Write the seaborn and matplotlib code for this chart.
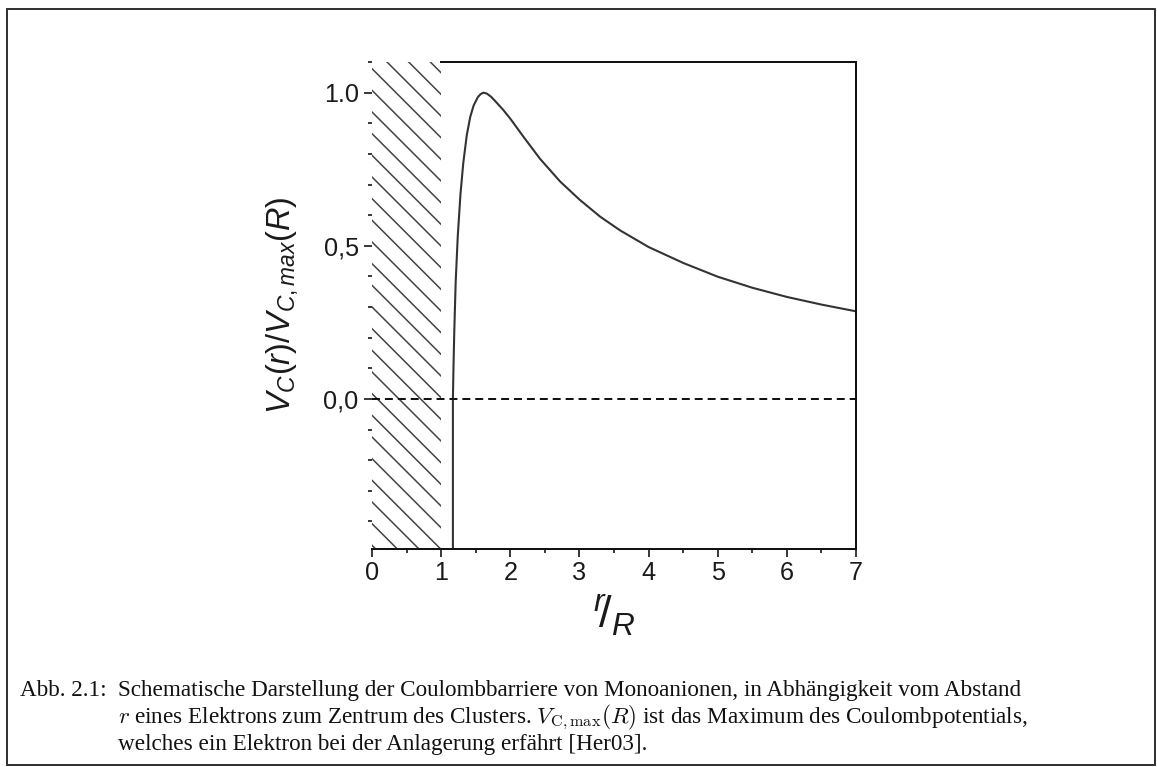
import matplotlib
matplotlib.use("Agg")
import matplotlib.pyplot as plt
import seaborn as sns
import pandas as pd
from matplotlib.lines import Line2D

# ---------------- data ----------------
r_values = [1.17, 1.17, 1.18, 1.19, 1.21, 1.24, 1.28, 1.32, 1.37, 1.42, 1.47,
            1.53, 1.57, 1.61, 1.66, 1.72, 1.80, 1.90, 2.00, 2.20, 2.43, 2.72,
            3.00, 3.30, 3.59, 4.00, 4.50, 5.00, 5.50, 6.00, 6.50, 7.00]
v_values = [-0.49, 0.00, 0.12, 0.22, 0.38, 0.53, 0.67, 0.77, 0.86, 0.92, 0.958,
            0.985, 0.995, 1.000, 0.997, 0.987, 0.968, 0.943, 0.915, 0.853, 0.784, 0.710,
            0.651, 0.595, 0.550, 0.496, 0.444, 0.399, 0.363, 0.333, 0.308, 0.286]
x_ticks = [0, 1, 2, 3, 4, 5, 6, 7]
x_tick_labels = ["0", "1", "2", "3", "4", "5", "6", "7"]
x_minor_ticks = [0.5, 1.5, 2.5, 3.5, 4.5, 5.5, 6.5]
y_ticks = [0.0, 0.5, 1.0]
y_tick_labels = ["0,0", "0,5", "1.0"]
y_minor_ticks = [-0.4, -0.3, -0.2, -0.1, 0.1, 0.2, 0.3, 0.4, 0.6, 0.7, 0.8, 0.9, 1.1]
x_label = r"$^{r}\!/_{R}$"
y_label = r"$V_C(r)/V_{C,max}(R)$"
caption_head = "Abb. 2.1:"
caption_lines = [
    "Schematische Darstellung der Coulombbarriere von Monoanionen, in Abhängigkeit vom Abstand",
    r"$r$ eines Elektrons zum Zentrum des Clusters. $V_{\mathrm{C,max}}(R)$ ist das Maximum des Coulombpotentials,",
    "welches ein Elektron bei der Anlagerung erfährt [Her03].",
]

# ---------------- style ----------------
sns.set_style("ticks")
plt.rcParams["font.family"] = ["Liberation Sans", "DejaVu Sans"]
plt.rcParams["mathtext.fontset"] = "custom"
plt.rcParams["mathtext.it"] = "Liberation Sans:italic"
plt.rcParams["mathtext.rm"] = "Liberation Sans"
plt.rcParams["mathtext.sf"] = "Liberation Sans"
plt.rcParams["hatch.linewidth"] = 0.85

DPI = 130
W, H = 1157, 767
fig = plt.figure(figsize=(W / DPI, H / DPI), dpi=DPI)
fig.patch.set_facecolor("white")

L, R, T, B = 372, 856, 62, 549
ax = fig.add_axes([L / W, 1 - B / H, (R - L) / W, (B - T) / H])
ax.set_facecolor("white")

df = pd.DataFrame({"r": r_values, "V": v_values})
sns.lineplot(data=df, x="r", y="V", sort=False, estimator=None,
             color="#333333", lw=1.15, ax=ax)

ax.axvspan(0, 1, facecolor="none", edgecolor="#444444", hatch="\\\\", lw=0, zorder=0)
ax.axhline(0, color="#111111", lw=1.1, ls=(0, (4, 2.5)), zorder=3)

ax.set_xlim(0, 7)
ax.set_ylim(-0.49, 1.1)

ax.set_xticks(x_ticks)
ax.set_xticklabels(x_tick_labels)
ax.set_xticks(x_minor_ticks, minor=True)
ax.set_yticks(y_ticks)
ax.set_yticklabels(y_tick_labels)
ax.set_yticks(y_minor_ticks, minor=True)

ax.tick_params(which="major", direction="out", length=4.4, width=0.9,
               color="#111111", labelsize=14, labelcolor="#1a1a1a")
ax.tick_params(axis="x", which="major", pad=2.5)
ax.tick_params(axis="y", which="major", pad=3.0)
ax.tick_params(which="minor", direction="out", length=2.2, width=0.9, color="#111111")

ax.spines["left"].set_visible(False)
for s in ["top", "right", "bottom"]:
    ax.spines[s].set_linewidth(1.1)
    ax.spines[s].set_color("#111111")
ax.spines["top"].set_bounds(1, 7)

ax.set_xlabel(x_label, fontsize=25, color="#1a1a1a", labelpad=4)
ax.set_ylabel(y_label, fontsize=18, color="#1a1a1a", labelpad=13)

# ---------------- caption ----------------
serif = ["Liberation Serif", "DejaVu Serif"]
x_head = 20
x_body = 118
target_right = 1022
base = [696, 723, 750]
t_head = fig.text(x_head / W, 1 - base[0] / H, caption_head, family=serif, fontsize=12,
                  va="baseline", ha="left", color="#111111")
t1 = fig.text(x_body / W, 1 - base[0] / H, caption_lines[0], family=serif, fontsize=12,
              va="baseline", ha="left", color="#111111")
renderer = fig.canvas.get_renderer()
w1 = t1.get_window_extent(renderer).width
fs = 12 * (target_right - x_body) / w1
t1.set_fontsize(fs)
t_head.set_fontsize(fs)
t2 = fig.text(x_body / W, 1 - base[1] / H, caption_lines[1], family=serif, fontsize=fs,
              va="baseline", ha="left", color="#111111", math_fontfamily="cm")
t3 = fig.text(x_body / W, 1 - base[2] / H, caption_lines[2], family=serif, fontsize=fs,
              va="baseline", ha="left", color="#111111")

# ---------------- outer frame ----------------
frame_kw = dict(color="#333333", lw=1.1, transform=fig.transFigure)
fx0, fx1 = 7 / W, 1155 / W
fy0, fy1 = 1 - 765 / H, 1 - 9 / H
fig.add_artist(Line2D([fx0, fx1], [fy1, fy1], **frame_kw))
fig.add_artist(Line2D([fx0, fx0], [fy0, fy1], **frame_kw))
fig.add_artist(Line2D([fx1, fx1], [fy0, fy1], **frame_kw))
fig.add_artist(Line2D([fx0, fx1], [fy0, fy0], **frame_kw))

fig.savefig("out.png", dpi=DPI, facecolor="white")
